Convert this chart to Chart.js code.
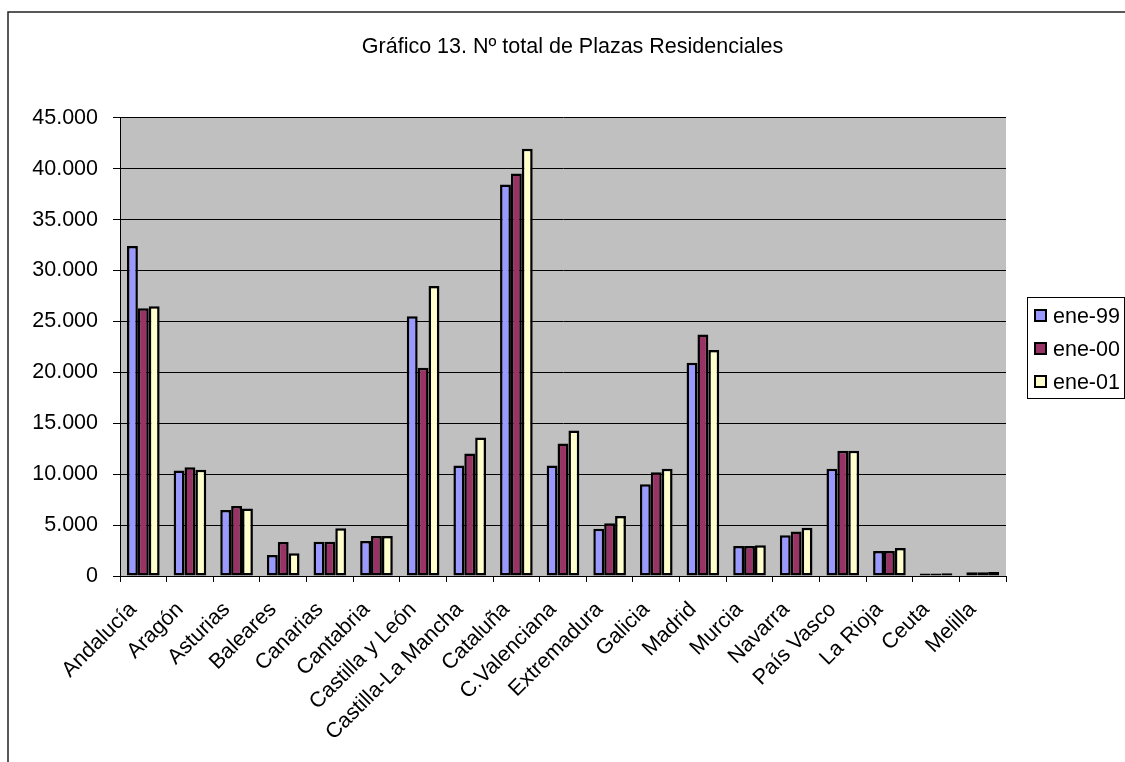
<!DOCTYPE html>
<html>
<head>
<meta charset="utf-8">
<script src="https://cdn.jsdelivr.net/npm/chart.js@4.4.1/dist/chart.umd.min.js"></script>
<style>
  html, body { margin: 0; padding: 0; background: #fff; }
  #wrap { width: 1125px; height: 762px; }
</style>
</head>
<body>
<div id="wrap"><canvas id="c" width="1125" height="762"></canvas></div>
<script>
const chartTitle = 'Gráfico 13. Nº total de Plazas Residenciales';
const categories = ['Andalucía','Aragón','Asturias','Baleares','Canarias','Cantabria','Castilla y León','Castilla-La Mancha','Cataluña','C.Valenciana','Extremadura','Galicia','Madrid','Murcia','Navarra','País Vasco','La Rioja','Ceuta','Melilla'];
const seriesNames = ['ene-99','ene-00','ene-01'];
const ene99 = [32400, 10370, 6480, 2060, 3370, 3440, 25500, 10860, 38450, 10860, 4650, 9000, 20940, 2950, 3990, 10540, 2450, 240, 360];
const ene00 = [26300, 10670, 6870, 3340, 3370, 3930, 20450, 12040, 39530, 13020, 5170, 10200, 23720, 2950, 4380, 12300, 2450, 250, 380];
const ene01 = [26500, 10440, 6640, 2230, 4680, 3930, 28470, 13600, 41950, 14300, 5890, 10540, 22190, 3010, 4740, 12300, 2750, 260, 390];
const yTicks = [0, 5000, 10000, 15000, 20000, 25000, 30000, 35000, 40000, 45000];

const FONT = 'Liberation Sans, Arial, sans-serif';
const FS = 21.5;
const colors = ['#9999FF', '#993366', '#FFFFCC'];

function fmt(v) { return String(v).replace(/\B(?=(\d{3})+(?!\d))/g, '.'); }

const bgPlugin = {
  id: 'bg',
  beforeDraw(chart) {
    const ctx = chart.ctx, a = chart.chartArea;
    ctx.save();
    ctx.fillStyle = '#ffffff';
    ctx.fillRect(0, 0, chart.width, chart.height);
    ctx.fillStyle = '#C0C0C0';
    ctx.fillRect(a.left, a.top, a.right - a.left, a.bottom - a.top);
    ctx.strokeStyle = '#222';
    ctx.lineWidth = 1.5;
    ctx.beginPath();
    ctx.moveTo(8, chart.height);
    ctx.lineTo(8, 12);
    ctx.lineTo(chart.width, 12);
    ctx.stroke();
    ctx.restore();
  }
};

const legendPlugin = {
  id: 'boxLegend',
  afterDraw(chart) {
    const ctx = chart.ctx;
    ctx.save();
    ctx.fillStyle = '#fff';
    ctx.fillRect(1027.5, 297.5, 97, 101);
    ctx.strokeStyle = '#000';
    ctx.lineWidth = 1;
    ctx.strokeRect(1027.5, 297.5, 97, 101);
    const rows = [316, 349, 382];
    ctx.font = FS + 'px ' + FONT;
    ctx.textBaseline = 'middle';
    chart.data.datasets.forEach((ds, i) => {
      const y = rows[i];
      ctx.fillStyle = ds.backgroundColor;
      ctx.fillRect(1035, y - 6, 11, 11);
      ctx.lineWidth = 2;
      ctx.strokeStyle = '#000';
      ctx.strokeRect(1035, y - 6, 11, 11);
      ctx.fillStyle = '#000';
      ctx.fillText(ds.label, 1053, y + 1);
    });
    ctx.restore();
  }
};

new Chart(document.getElementById('c'), {
  type: 'bar',
  data: {
    labels: categories,
    datasets: [
      { label: seriesNames[0], data: ene99, backgroundColor: colors[0] },
      { label: seriesNames[1], data: ene00, backgroundColor: colors[1] },
      { label: seriesNames[2], data: ene01, backgroundColor: colors[2] }
    ]
  },
  options: {
    responsive: false,
    animation: false,
    layout: { padding: { left: 20, right: 0, top: 0, bottom: 0 } },
    datasets: {
      bar: {
        borderColor: '#000',
        borderWidth: 2.5,
        borderSkipped: false,
        categoryPercentage: 0.7,
        barPercentage: 1.0
      }
    },
    plugins: {
      legend: { display: false },
      tooltip: { enabled: false },
      title: {
        display: true,
        text: chartTitle,
        color: '#000',
        font: { family: FONT, size: FS, weight: 'normal', lineHeight: 1.2 },
        padding: { top: 34, bottom: 58 }
      }
    },
    scales: {
      x: {
        type: 'category',
        offset: true,
        grid: { display: true, drawOnChartArea: false, offset: true, color: '#000', tickLength: 6, lineWidth: 1 },
        border: { display: true, color: '#000', width: 1 },
        ticks: {
          color: '#000',
          font: { family: FONT, size: FS },
          minRotation: 45,
          maxRotation: 45,
          autoSkip: false,
          padding: 15,
          labelOffset: -10
        },
        afterFit(scale) { scale.height = 186; }
      },
      y: {
        type: 'linear',
        position: 'left',
        min: 0,
        max: 45000,
        afterBuildTicks(scale) { scale.ticks = yTicks.map(v => ({ value: v })); },
        grid: { color: '#000', lineWidth: 1, tickLength: 7, drawOnChartArea: true },
        border: { display: true, color: '#000', width: 1 },
        ticks: {
          color: '#000',
          font: { family: FONT, size: FS },
          padding: 15,
          callback: (v) => fmt(v)
        },
        afterFit(scale) { scale.width = 100; }
      },
      yRight: {
        type: 'linear',
        position: 'right',
        display: true,
        grid: { display: false, drawTicks: false },
        border: { display: false },
        ticks: { display: false },
        afterFit(scale) { scale.width = 119; }
      }
    }
  },
  plugins: [bgPlugin, legendPlugin]
});
</script>
</body>
</html>
